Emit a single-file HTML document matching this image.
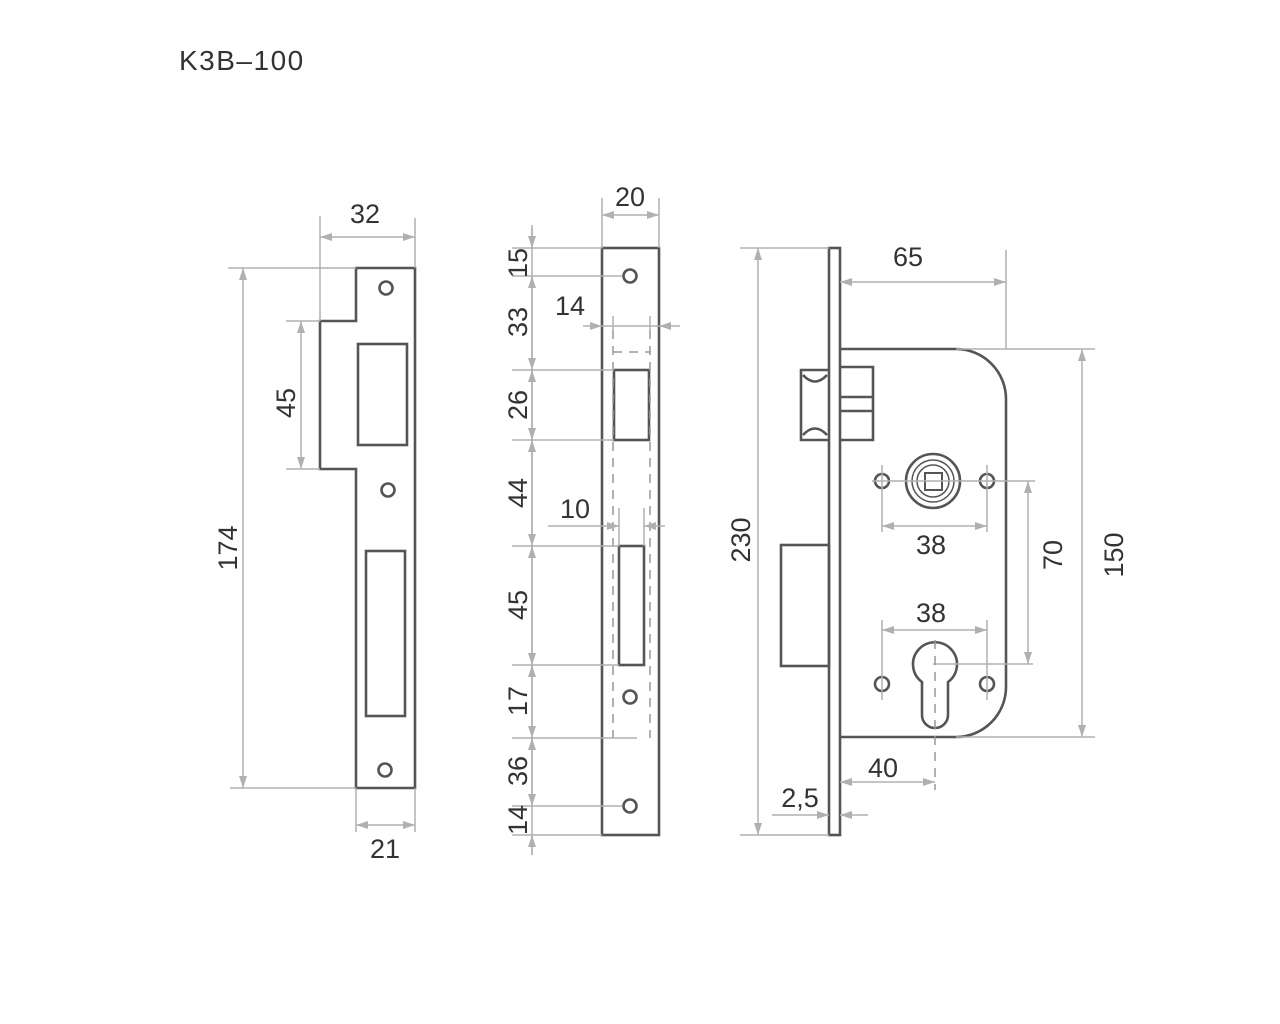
<!DOCTYPE html>
<html><head><meta charset="utf-8"><style>
html,body{margin:0;padding:0;background:#fff;}
svg{display:block;}
text{font-family:"Liberation Sans",sans-serif;font-size:27px;fill:#333;}
.o{fill:none;stroke:#555;stroke-width:2.6;}
.d{fill:none;stroke:#b0b0b0;stroke-width:1.5;}
.ds{fill:none;stroke:#999;stroke-width:1.5;stroke-dasharray:9 7;}
.a{fill:#b0b0b0;}
</style></head><body>
<svg width="1280" height="1024" viewBox="0 0 1280 1024" xmlns="http://www.w3.org/2000/svg">
<defs>
<marker id="m" viewBox="0 0 12 8" refX="12" refY="4" markerWidth="12" markerHeight="8" orient="auto-start-reverse" markerUnits="userSpaceOnUse"><path d="M0,0 L12,4 L0,8 z" fill="#b0b0b0"/></marker>
</defs>
<text x="179" y="70" style="font-size:28px;letter-spacing:1.5px">K3B–100</text>

<!-- LEFT PLATE -->
<path class="o" d="M356,268 H415 V788 H356 V469 H320 V321 H356 Z"/>
<circle class="o" cx="386" cy="288" r="6.5"/>
<circle class="o" cx="388" cy="490" r="6.5"/>
<circle class="o" cx="385" cy="770" r="6.5"/>
<rect class="o" x="358" y="344" width="49" height="101"/>
<rect class="o" x="366" y="551" width="39" height="165"/>
<path class="d" d="M320,216 V321 M415,218 V268 M228,268 H356 M230,788 H356 M286,321 H320 M286,469 H320 M356,788 V832 M415,788 V832"/>
<line class="d" x1="320" y1="237" x2="415" y2="237" marker-start="url(#m)" marker-end="url(#m)"/>
<line class="d" x1="243" y1="268" x2="243" y2="788" marker-start="url(#m)" marker-end="url(#m)"/>
<line class="d" x1="301" y1="321" x2="301" y2="469" marker-start="url(#m)" marker-end="url(#m)"/>
<line class="d" x1="356" y1="825" x2="415" y2="825" marker-start="url(#m)" marker-end="url(#m)"/>
<text x="365" y="223" text-anchor="middle">32</text>
<text x="385" y="858" text-anchor="middle">21</text>
<text transform="translate(237 548) rotate(-90)" text-anchor="middle">174</text>
<text transform="translate(295 403) rotate(-90)" text-anchor="middle">45</text>

<!-- MIDDLE PLATE -->
<rect class="o" x="602" y="248" width="57" height="587"/>
<circle class="o" cx="630" cy="276" r="6.5"/>
<circle class="o" cx="630" cy="697" r="6.5"/>
<circle class="o" cx="630" cy="806" r="6.5"/>
<rect class="o" x="614" y="370" width="35" height="70"/>
<rect class="o" x="619" y="546" width="25" height="119"/>
<path class="ds" d="M613,330 V738 M650,330 V738 M613,352 H650"/>
<path class="d" d="M532,225 V855"/>
<path class="d" d="M512,248 H602 M512,276 H622 M512,370 H614 M512,440 H614 M512,546 H619 M512,665 H619 M512,738 H637 M512,806 H622 M512,835 H602"/>
<g>
<line class="d" x1="532" y1="228" x2="532" y2="248" marker-end="url(#m)"/>
<line class="d" x1="532" y1="276" x2="532" y2="370" marker-start="url(#m)" marker-end="url(#m)"/>
<line class="d" x1="532" y1="370" x2="532" y2="440" marker-start="url(#m)" marker-end="url(#m)"/>
<line class="d" x1="532" y1="440" x2="532" y2="546" marker-start="url(#m)" marker-end="url(#m)"/>
<line class="d" x1="532" y1="546" x2="532" y2="665" marker-start="url(#m)" marker-end="url(#m)"/>
<line class="d" x1="532" y1="665" x2="532" y2="738" marker-start="url(#m)" marker-end="url(#m)"/>
<line class="d" x1="532" y1="738" x2="532" y2="806" marker-start="url(#m)" marker-end="url(#m)"/>
<line class="d" x1="532" y1="855" x2="532" y2="835" marker-end="url(#m)"/>
</g>
<text transform="translate(527 263) rotate(-90)" text-anchor="middle">15</text>
<text transform="translate(527 322) rotate(-90)" text-anchor="middle">33</text>
<text transform="translate(527 405) rotate(-90)" text-anchor="middle">26</text>
<text transform="translate(527 493) rotate(-90)" text-anchor="middle">44</text>
<text transform="translate(527 605) rotate(-90)" text-anchor="middle">45</text>
<text transform="translate(527 701) rotate(-90)" text-anchor="middle">17</text>
<text transform="translate(527 771) rotate(-90)" text-anchor="middle">36</text>
<text transform="translate(527 820) rotate(-90)" text-anchor="middle">14</text>
<path class="d" d="M602,198 V248 M659,198 V248 M613,316 V330 M650,316 V330 M619,508 V546 M644,508 V546"/>
<line class="d" x1="602" y1="215" x2="659" y2="215" marker-start="url(#m)" marker-end="url(#m)"/>
<line class="d" x1="583" y1="326" x2="602" y2="326" marker-end="url(#m)"/>
<line class="d" x1="680" y1="326" x2="659" y2="326" marker-end="url(#m)"/>
<line class="d" x1="602" y1="326" x2="659" y2="326"/>
<line class="d" x1="548" y1="526" x2="619" y2="526" marker-end="url(#m)"/>
<line class="d" x1="665" y1="526" x2="644" y2="526" marker-end="url(#m)"/>
<text x="630" y="206" text-anchor="middle">20</text>
<text x="570" y="315" text-anchor="middle">14</text>
<text x="575" y="518" text-anchor="middle">10</text>

<!-- RIGHT LOCK -->
<rect class="o" x="829" y="248" width="11" height="587"/>
<path class="o" d="M840,349 H956 A50,50 0 0 1 1006,399 V687 A50,50 0 0 1 956,737 H840"/>
<path class="o" d="M829,370 H801 V440 H829"/>
<path class="o" d="M803,375 Q815,388 827,375 M803,435 Q815,422 827,435"/>
<path class="o" d="M840,367 H873 V440 H840 M840,397 H873 M840,411 H873"/>
<rect class="o" x="781" y="545" width="48" height="121"/>
<circle class="o" cx="933" cy="481" r="27"/>
<circle class="o" cx="933" cy="481" r="21" style="stroke-width:1.5"/>
<circle class="o" cx="933" cy="481" r="16" style="stroke-width:1.5"/>
<rect class="o" x="925" y="473" width="17" height="17" style="stroke-width:2"/>
<circle class="o" cx="882" cy="481" r="7"/>
<circle class="o" cx="987" cy="481" r="7"/>
<circle class="o" cx="882" cy="684" r="7"/>
<circle class="o" cx="987" cy="684" r="7"/>
<path class="o" d="M922,682 A22,22 0 1 1 948,682 V715 A13,13 0 0 1 922,715 Z"/>
<path class="d" d="M740,248 H829 M740,835 H829 M1006,250 V349 M956,349 H1095 M956,737 H1095 M882,465 V532 M987,465 V532 M872,481 H1035 M882,620 V700 M987,620 V700 M933,664 H1033"/>
<path class="ds" d="M935,640 V790"/>
<line class="d" x1="758" y1="248" x2="758" y2="835" marker-start="url(#m)" marker-end="url(#m)"/>
<line class="d" x1="840" y1="282" x2="1006" y2="282" marker-start="url(#m)" marker-end="url(#m)"/>
<line class="d" x1="1082" y1="349" x2="1082" y2="737" marker-start="url(#m)" marker-end="url(#m)"/>
<line class="d" x1="1028" y1="481" x2="1028" y2="664" marker-start="url(#m)" marker-end="url(#m)"/>
<line class="d" x1="882" y1="526" x2="987" y2="526" marker-start="url(#m)" marker-end="url(#m)"/>
<line class="d" x1="882" y1="630" x2="987" y2="630" marker-start="url(#m)" marker-end="url(#m)"/>
<line class="d" x1="840" y1="782" x2="935" y2="782" marker-start="url(#m)" marker-end="url(#m)"/>
<line class="d" x1="772" y1="815" x2="829" y2="815" marker-end="url(#m)"/>
<line class="d" x1="868" y1="815" x2="840" y2="815" marker-end="url(#m)"/>
<text transform="translate(750 540) rotate(-90)" text-anchor="middle">230</text>
<text transform="translate(1123 555) rotate(-90)" text-anchor="middle">150</text>
<text transform="translate(1062 555) rotate(-90)" text-anchor="middle">70</text>
<text x="908" y="266" text-anchor="middle">65</text>
<text x="931" y="554" text-anchor="middle">38</text>
<text x="931" y="622" text-anchor="middle">38</text>
<text x="883" y="777" text-anchor="middle">40</text>
<text x="800" y="807" text-anchor="middle">2,5</text>
</svg>
</body></html>
